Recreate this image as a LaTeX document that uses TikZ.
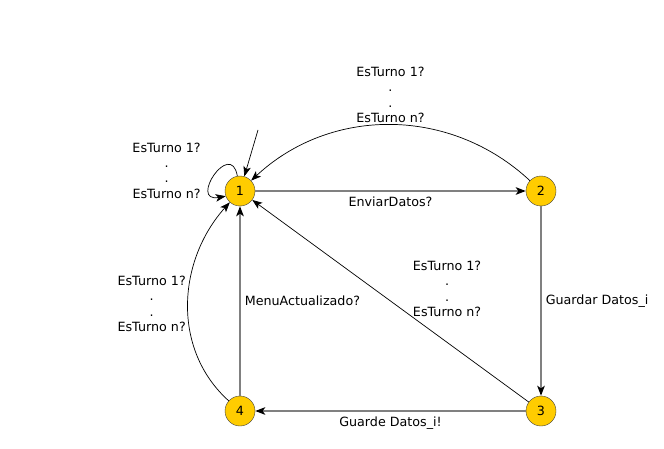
\documentclass[tikz,border=0pt]{standalone}
\usepackage{fontspec}
\setmainfont{DejaVu Sans}
\usetikzlibrary{arrows.meta}
\definecolor{oro}{HTML}{FFCC00}
\definecolor{gris}{HTML}{808080}

\begin{document}
\begin{tikzpicture}[x=1pt,y=1pt,
    every node/.style={font=\fontsize{12.7}{15.4}\selectfont},
    estado/.style={circle,draw=black!75,fill=oro,minimum size=30pt,inner sep=0pt},
    punta/.style={-{Stealth[black,length=10pt,width=7.5pt,inset=2.5pt]}},
    fina/.style={punta,black,line width=0.7pt},
    gruesa/.style={punta,gris,line width=1.6pt},
    etiq/.style={align=center,text=black,inner sep=2pt}]
  \useasboundingbox (0,0) rectangle (664,448);
  % estados
  \node[estado](n1)at(240,257){1};
  \node[estado](n2)at(541,257){2};
  \node[estado](n3)at(541,37){3};
  \node[estado](n4)at(240,37){4};
  \coordinate (ini) at (258,318);
  % transiciones
  \draw[fina](ini)--(n1);
  \draw[fina](n1.100) .. controls +(100:38pt) and +(190:38pt) .. node[pos=0.5,anchor=east,xshift=-12pt,yshift=4pt,etiq]{EsTurno 1?\\.\\.\\EsTurno n?} (n1.200);
  \draw[gruesa](n1)-- node[below,etiq,inner sep=5pt]{EnviarDatos?} (n2);
  \draw[fina](n2) to[out=137,in=43] node[midway,above,etiq]{EsTurno 1?\\.\\.\\EsTurno n?} (n1);
  \draw[gruesa](n2)-- node[right,etiq,inner sep=4pt]{Guardar Datos\_i} (n3);
  \draw[gruesa](n3)-- node[below,etiq,inner sep=5pt]{Guarde Datos\_i!} (n4);
  \draw[gruesa](n4)-- node[right,etiq,inner sep=4pt]{MenuActualizado?} (n1);
  \draw[fina](n3)-- node[pos=0.42,anchor=south west,etiq,inner sep=0pt]{EsTurno 1?\\.\\.\\EsTurno n?} (n1);
  \draw[fina](n4) to[out=138,in=228] node[midway,left,etiq]{EsTurno 1?\\.\\.\\EsTurno n?} (n1);
\end{tikzpicture}
\end{document}
